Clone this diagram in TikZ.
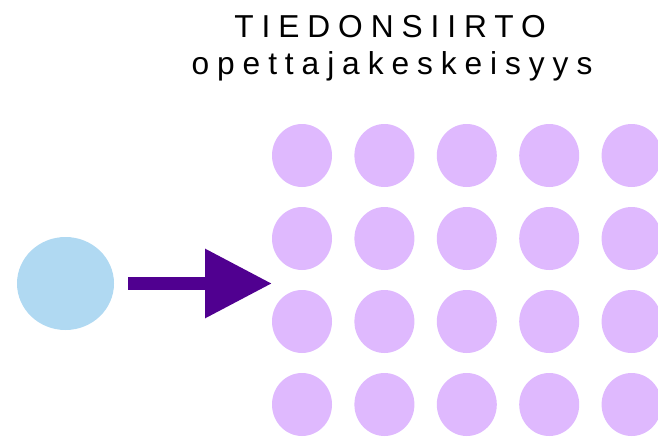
\documentclass[tikz,border=0pt]{standalone}
\usepackage{fontspec}
\setmainfont{Liberation Sans}
\newfontfamily\harvafont[LetterSpace=25]{Liberation Sans}
\usetikzlibrary{shapes.geometric,arrows.meta}
\definecolor{opevari}{HTML}{B0D9F2}
\definecolor{oppilasvari}{HTML}{DFB9FE}
\definecolor{nuolivari}{HTML}{500090}
\tikzset{
	opettaja/.style={ellipse,fill=opevari,minimum width=97pt,minimum height=93pt,inner sep=0pt},
	oppilas/.style={ellipse,fill=oppilasvari,minimum width=60pt,minimum height=63pt,inner sep=0pt},
	nuoli/.style={nuolivari,line width=13pt,-{Triangle[length=67pt,width=66pt]}},
	otsikko/.style={anchor=base,inner sep=0pt,font=\harvafont\fontsize{31.7}{38}\selectfont}
}
\begin{document}
\begin{tikzpicture}[x=1pt,y=-1pt]
		%==Mitat
		\def\dx{82.4}
		\def\dy{83}
		%==============
		\useasboundingbox (0,0) rectangle (658,439);
		\clip (0,0) rectangle (658,439);
		\node[otsikko] (rivi1) at (390,37) {TIEDONSIIRTO};
		\node[otsikko] (rivi2) at (392,74.5) {opettajakeskeisyys};
		\node[opettaja] (ope) at (65.5,283.5) {};
		\coordinate (karki) at (272,283.5);
		\draw[nuoli] ([xshift=14pt]ope.east)--(karki);
		\foreach \i in {0,...,4}{
			\foreach \j in {0,...,3}{
				\node[oppilas] (o\i\j) at (302+\i*\dx,155.5+\j*\dy) {};
			}
		}
		\end{tikzpicture}
\end{document}
